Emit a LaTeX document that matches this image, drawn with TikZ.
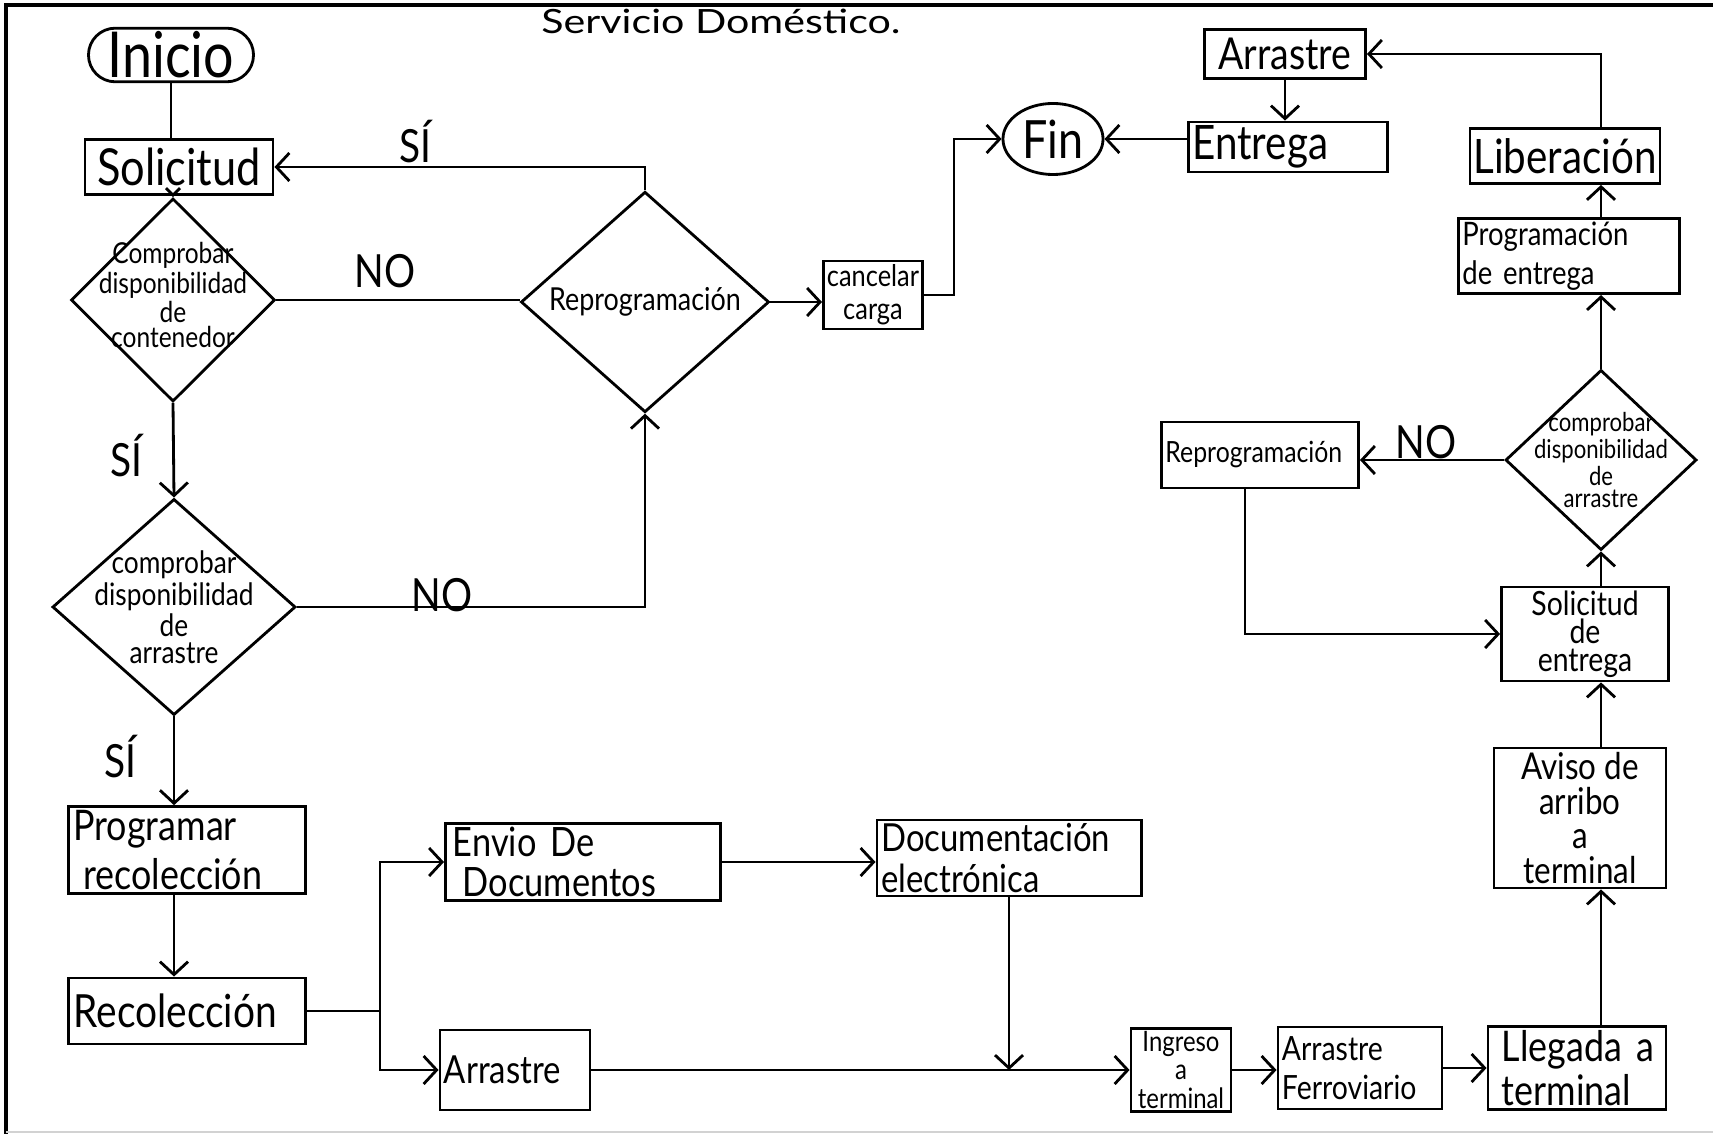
\documentclass[tikz,border=0pt]{standalone}
\usepackage{fontspec}
\usepackage{graphicx}
\setmainfont{Lato}[FakeStretch=0.85]
\usetikzlibrary{arrows.meta,shapes.geometric,shapes.misc}

\newcommand{\tam}[2]{\fontsize{#1}{#2}\selectfont}

\tikzset{
  caja/.style={draw, line width=0.8pt, inner sep=1pt, align=center},
  izq/.style={align=left, text width=#1},
  rombo/.style={draw, diamond, line width=0.8pt, inner sep=0pt},
  linea/.style={line width=0.8pt},
  flecha/.style={line width=0.8pt, -{Straight Barb[length=1.3mm,width=2.8mm]}},
  flechachica/.style={line width=0.8pt, -{Straight Barb[length=0.7mm,width=1.4mm]}},
  etiq/.style={font=\tam{13}{14}}
}

\begin{document}
\begin{tikzpicture}[x=0.01cm,y=-0.01cm]
\useasboundingbox (0,0) rectangle (1713,1134);
% marco de la hoja
\draw[line width=1.3pt] (6,1134) -- (6,5) -- (1713,5);
\draw[gray!35,line width=0.8pt] (6,1132) -- (1713,1132);

\node (titulo) at (721,21) {\tam{9.5}{10}\scalebox{1.45}[1]{Servicio Doméstico.}};

% columna izquierda
\node[caja, rounded rectangle, minimum width=1.72cm, minimum height=0.49cm, font=\tam{18}{19}] (inicio) at (171,55) {Inicio};
\node[caja, minimum width=1.88cm, minimum height=0.55cm, font=\tam{14.5}{15}] (solicitud) at (179,167) {Solicitud};
\node[rombo, minimum width=2.04cm, minimum height=2.03cm,
  label={[font=\tam{8.2}{7.1}, align=center, yshift=0.5mm]center:Comprobar\\disponibilidad\\de\\contenedor}] (comp1) at (173,300) {};
\node[rombo, minimum width=2.43cm, minimum height=2.16cm,
  label={[font=\tam{8.8}{7.5}, align=center]center:comprobar\\disponibilidad\\de\\arrastre}] (comp2) at (174,607) {};
\node[caja, izq=2.27cm, minimum width=2.37cm, minimum height=0.78cm, font=\tam{12}{14}] (progrec) at (187,850) {Programar\\\hspace*{1mm}recolección};
\node[caja, izq=2.27cm, minimum width=2.37cm, minimum height=0.66cm, font=\tam{13}{14}] (recol) at (187,1011) {Recolección};

% centro
\node[rombo, minimum width=2.48cm, minimum height=2.14cm, font=\tam{9}{10}] (reprog1) at (645,302) {Reprogramación};
\node[caja, minimum width=0.96cm, minimum height=0.66cm, font=\tam{8.5}{9.5}] (cancelar) at (873,295) {cancelar\\carga};
\node[draw, ellipse, line width=0.8pt, inner sep=0pt, minimum width=1.00cm, minimum height=0.71cm, font=\tam{15}{16}] (fin) at (1053,139) {Fin};
\node[caja, izq=2.6cm, minimum width=2.75cm, minimum height=0.63cm, font=\tam{11.5}{11.5}] (envio) at (583,862) {Envio De\\\hspace*{1mm}Documentos};
\node[caja, izq=2.55cm, minimum width=2.64cm, minimum height=0.66cm, font=\tam{11}{11.5}] (docel) at (1009,858) {Documentación\\electrónica};
\node[caja, izq=1.42cm, minimum width=1.50cm, minimum height=0.80cm, font=\tam{11}{12}] (arrastreB) at (515,1070) {Arrastre};

% abajo a la derecha
\node[caja, minimum width=1.00cm, minimum height=0.82cm, font=\tam{8}{8}] (ingreso) at (1181,1070) {Ingreso\\a\\terminal};
\node[caja, izq=1.56cm, minimum width=1.64cm, minimum height=0.82cm, font=\tam{9.5}{11}] (ferro) at (1360,1068) {Arrastre\\Ferroviario};
\node[caja, izq=1.7cm, minimum width=1.78cm, minimum height=0.82cm, font=\tam{12}{12.5}] (llegada) at (1577,1068) {\hspace*{1mm}Llegada a\\\hspace*{1mm}terminal};
\node[caja, minimum width=1.72cm, minimum height=1.40cm, font=\tam{10.5}{9.8}] (aviso) at (1580,818) {Aviso de\\arribo\\a\\terminal};
\node[caja, minimum width=1.67cm, minimum height=0.82cm, font=\tam{9.5}{8}] (solent) at (1585,634) {Solicitud\\de\\entrega};
\node[rombo, minimum width=1.91cm, minimum height=1.80cm,
  label={[font=\tam{7.4}{6.4}, align=center]center:comprobar\\disponibilidad\\de\\arrastre}] (comp3) at (1601,460) {};
\node[caja, izq=1.89cm, minimum width=1.97cm, minimum height=0.66cm, font=\tam{8.3}{9}] (reprog2) at (1260,455) {Reprogramación};
\node[caja, izq=2.13cm, minimum width=2.21cm, minimum height=0.74cm, font=\tam{9.2}{11}] (prog2) at (1569,256) {Programación\\de entrega};
\node[caja, minimum width=1.80cm, minimum height=0.55cm, font=\tam{13.5}{14}] (liberacion) at (1565,156) {Liberación};
\node[caja, izq=1.91cm, minimum width=1.99cm, minimum height=0.50cm, font=\tam{13.5}{14}] (entrega) at (1288,147) {Entrega};
\node[caja, minimum width=1.61cm, minimum height=0.49cm, font=\tam{12.5}{13}] (arrastreA) at (1285,54) {Arrastre};

% etiquetas
\node[etiq] (no1) at (385,271) {NO};
\node[etiq] (si1) at (415,142) {SÍ};
\node[etiq] (si2) at (126,456) {SÍ};
\node[etiq] (no2) at (442,595) {NO};
\node[etiq] (si3) at (120,757) {SÍ};
\node[etiq] (no3) at (1426,442) {NO};

% conectores
\draw[linea] (inicio.south) -- (inicio.south |- solicitud.north);
\draw[flechachica] (comp1 |- solicitud.south) -- (comp1.north);
\draw[linea] (comp1.east) -- (comp1.east -| reprog1.west);
\draw[flecha] (reprog1.north) |- (solicitud.east);
\draw[flecha] (comp1.south) -- (comp2.north);
\draw[flecha] (comp2.east) -| (reprog1.south);
\draw[flecha] (comp2.south) -- (comp2.south |- progrec.north);
\draw[flecha] (comp2 |- progrec.south) -- (comp2 |- recol.north);
\draw[flecha] (reprog1.east) -- (reprog1.east -| cancelar.west);
\draw[flecha] (cancelar.east) -- ++(30,0) |- (fin.west);
\draw[flecha] (entrega.west |- fin.east) -- (fin.east);
\draw[flecha] (arrastreA.south) -- (arrastreA.south |- entrega.north);
\draw[flecha] (comp3 |- liberacion.north) |- (arrastreA.east);
\draw[flecha] (comp3 |- prog2.north) -- (comp3 |- liberacion.south);
\draw[flecha] (comp3.north) -- (comp3 |- prog2.south);
\draw[flecha] (comp3.west) -- (comp3.west -| reprog2.east);
\draw[flecha] ([xshift=-1.5mm]reprog2.south) |- (solent.west);
\draw[flecha] (comp3 |- solent.north) -- (comp3.south);
\draw[flecha] (comp3 |- aviso.north) -- (comp3 |- solent.south);
\draw[flecha] (comp3 |- llegada.north) -- (comp3 |- aviso.south);
\draw[flecha] (ferro.east) -- (ferro.east -| llegada.west);
\draw[flecha] (ingreso.east) -- (ingreso.east -| ferro.west);
\draw[flecha] (arrastreB.east) -- (ingreso.west);
\draw[flecha] (docel.south) -- (docel.south |- arrastreB.east);
\draw[flecha] (envio.east) -- (envio.east -| docel.west);
\coordinate (rama) at (380,1011);
\draw[linea] (recol.east) -- (rama);
\draw[flecha] (rama) |- (envio.west);
\draw[flecha] (rama) |- (arrastreB.west);
\end{tikzpicture}
\end{document}
